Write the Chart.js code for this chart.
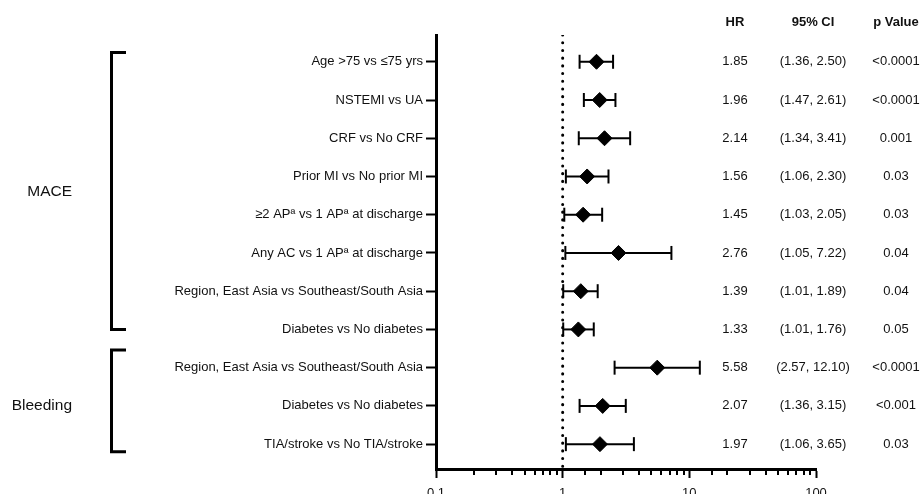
<!DOCTYPE html>
<html>
<head>
<meta charset="utf-8">
<script src="https://cdn.jsdelivr.net/npm/chart.js@4"></script>
<style>
html, body { margin: 0; padding: 0; background: #fff; overflow: hidden; }
#wrap { width: 921px; height: 494px; position: relative; }
</style>
</head>
<body>
<div id="wrap"><canvas id="forest"></canvas></div>
<script>
var rowLabels = [
	'Age >75 vs \u226475 yrs',
	'NSTEMI vs UA',
	'CRF vs No CRF',
	'Prior MI vs No prior MI',
	'\u22652 AP\u00aa vs 1 AP\u00aa at discharge',
	'Any AC vs 1 AP\u00aa at discharge',
	'Region, East Asia vs Southeast/South Asia',
	'Diabetes vs No diabetes',
	'Region, East Asia vs Southeast/South Asia',
	'Diabetes vs No diabetes',
	'TIA/stroke vs No TIA/stroke'
];
var hr = [1.85, 1.96, 2.14, 1.56, 1.45, 2.76, 1.39, 1.33, 5.58, 2.07, 1.97];
var ciLow = [1.36, 1.47, 1.34, 1.06, 1.03, 1.05, 1.01, 1.01, 2.57, 1.36, 1.06];
var ciHigh = [2.50, 2.61, 3.41, 2.30, 2.05, 7.22, 1.89, 1.76, 12.10, 3.15, 3.65];
var pValues = ['<0.0001', '<0.0001', '0.001', '0.03', '0.03', '0.04', '0.04', '0.05', '<0.0001', '<0.001', '0.03'];
var groupNames = ['MACE', 'Bleeding'];
var groupTop = [0.76, 8.54];
var groupBottom = [8.0, 11.2];
var groupLabelRow = [4.41, 10];
var xTickLabels = [0.1, 1, 10, 100];
var columnHeaders = ['HR', '95% CI', 'p Value'];

var FONT = '"Liberation Sans", Arial, sans-serif';

function isMajor(v){
	for(var i = 0; i < xTickLabels.length; i++){
		if(Math.abs(v - xTickLabels[i]) < xTickLabels[i] * 1e-6) return true;
	}
	return false;
}

// error bars, one little line per row, caps are rotated 'line' points
var datasets = [];
datasets.push({
	label: 'HR',
	data: hr.map(function(v, i){ return {x: v, y: i + 1}; }),
	pointStyle: 'rectRot',
	pointRadius: 7.5,
	pointBackgroundColor: '#000',
	pointBorderColor: '#000',
	pointBorderWidth: 1,
	showLine: false
});
for(var i = 0; i < hr.length; i++){
	datasets.push({
		label: 'ci' + i,
		data: [{x: ciLow[i], y: i + 1}, {x: ciHigh[i], y: i + 1}],
		showLine: true,
		borderColor: '#000',
		borderWidth: 2,
		pointStyle: 'line',
		rotation: 90,
		pointRadius: 7,
		pointBorderColor: '#000',
		pointBorderWidth: 2
	});
}
// reference line at HR = 1
datasets.push({
	label: 'ref',
	data: [{x: 1, y: 0.3}, {x: 1, y: 11.65}],
	showLine: true,
	borderColor: '#000',
	borderWidth: 3,
	borderDash: [0.1, 7.6],
	borderCapStyle: 'round',
	pointRadius: 0
});

var extras = {
	id: 'forestExtras',
	afterDraw: function(chart){
		var ctx = chart.ctx;
		var xs = chart.scales.x;
		var ys = chart.scales.y;
		var area = chart.chartArea;
		ctx.save();

		// minor ticks on the log axis
		ctx.strokeStyle = '#000';
		ctx.lineWidth = 2;
		xs.ticks.forEach(function(t){
			if(isMajor(t.value)) return;
			var px = Math.round(xs.getPixelForValue(t.value));
			ctx.beginPath();
			ctx.moveTo(px, area.bottom);
			ctx.lineTo(px, area.bottom + 6);
			ctx.stroke();
		});

		// table columns
		ctx.fillStyle = '#111';
		ctx.textAlign = 'center';
		ctx.textBaseline = 'middle';
		ctx.font = 'bold 13px ' + FONT;
		var colX = [735, 813, 896];
		columnHeaders.forEach(function(h, k){ ctx.fillText(h, colX[k], 22); });
		ctx.font = '13px ' + FONT;
		for(var r = 0; r < hr.length; r++){
			var py = ys.getPixelForValue(r + 1);
			ctx.fillText(hr[r].toFixed(2), colX[0], py);
			ctx.fillText('(' + ciLow[r].toFixed(2) + ', ' + ciHigh[r].toFixed(2) + ')', colX[1], py);
			ctx.fillText(pValues[r], colX[2], py);
		}

		// group brackets
		ctx.lineWidth = 3;
		ctx.lineJoin = 'miter';
		ctx.lineCap = 'butt';
		for(var g = 0; g < groupNames.length; g++){
			var t = ys.getPixelForValue(groupTop[g]);
			var b = ys.getPixelForValue(groupBottom[g]);
			ctx.beginPath();
			ctx.moveTo(126, t);
			ctx.lineTo(111.5, t);
			ctx.lineTo(111.5, b);
			ctx.lineTo(126, b);
			ctx.stroke();
			ctx.font = '15.5px ' + FONT;
			ctx.textAlign = 'right';
			ctx.fillText(groupNames[g], 72, ys.getPixelForValue(groupLabelRow[g]));
		}
		ctx.restore();
	}
};

var myChart = new Chart(document.getElementById('forest'), {
	type: 'scatter',
	data: {datasets: datasets},
	options: {
		responsive: true,
		maintainAspectRatio: false,
		animation: false,
		events: [],
		layout: {padding: {left: 0, right: 105, top: 35, bottom: 0}},
		plugins: {legend: {display: false}, tooltip: {enabled: false}},
		scales: {
			x: {
				type: 'logarithmic',
				min: 0.1,
				max: 100,
				afterFit: function(axis){ axis.height = 25; },
				border: {display: true, color: '#000', width: 3},
				grid: {
					drawOnChartArea: false,
					drawTicks: true,
					tickLength: 9,
					tickWidth: 2,
					tickColor: function(c){ return c.tick && isMajor(c.tick.value) ? '#000' : 'rgba(0,0,0,0)'; }
				},
				ticks: {
					autoSkip: false,
					maxRotation: 0,
					padding: 8,
					color: '#111',
					font: {family: FONT, size: 13},
					callback: function(v){ return isMajor(v) ? String(v) : ''; }
				}
			},
			y: {
				type: 'linear',
				reverse: true,
				min: 0.3,
				max: 11.65,
				afterFit: function(axis){ axis.width = 436; },
				afterBuildTicks: function(axis){
					axis.ticks = rowLabels.map(function(l, i){ return {value: i + 1}; });
				},
				border: {display: true, color: '#000', width: 3},
				grid: {drawOnChartArea: false, drawTicks: true, tickLength: 10, tickWidth: 2, tickColor: '#000'},
				ticks: {
					padding: 3,
					color: '#111',
					font: {family: FONT, size: 13},
					callback: function(v){ return rowLabels[Math.round(v) - 1] || ''; }
				}
			}
		}
	},
	plugins: [extras]
});
</script>
</body>
</html>
